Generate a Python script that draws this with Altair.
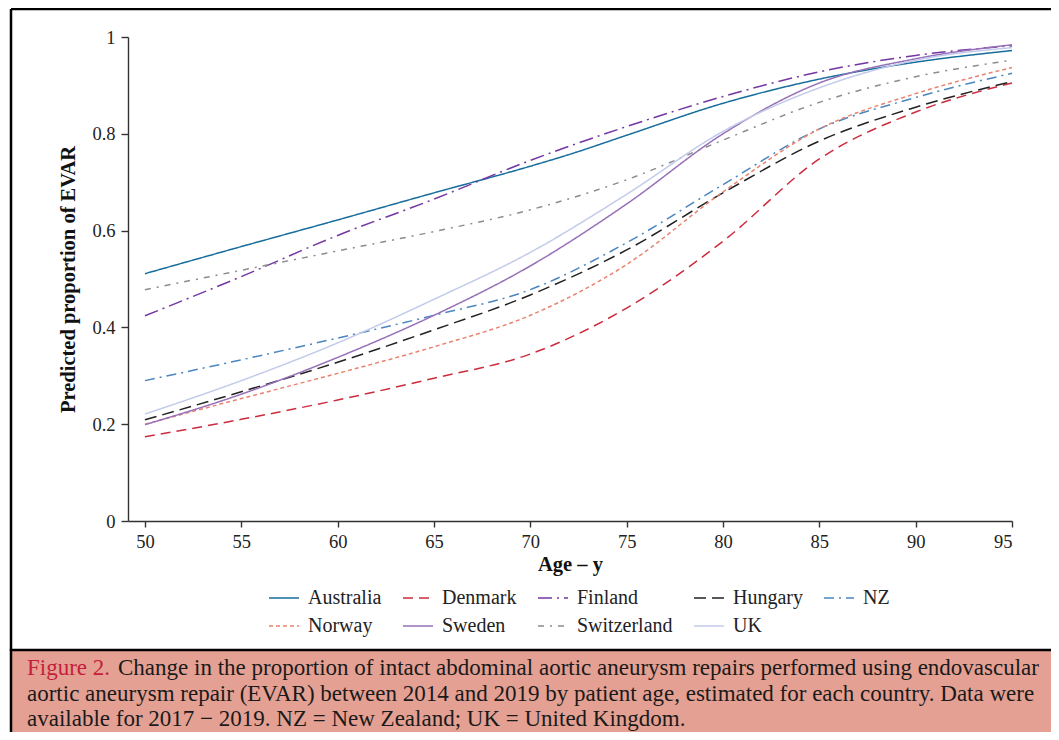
import altair as alt
import pandas as pd

ages = [50, 55, 60, 65, 70, 75, 80, 85, 90, 95]
australia_ages = [50, 55, 60, 65, 70, 72, 75, 80, 85, 90, 95]
australia = [0.511, 0.567, 0.622, 0.678, 0.733, 0.757, 0.797, 0.863, 0.913, 0.948, 0.972]
denmark = [0.174, 0.210, 0.250, 0.295, 0.345, 0.440, 0.578, 0.748, 0.845, 0.905]
finland = [0.424, 0.505, 0.590, 0.665, 0.745, 0.815, 0.877, 0.928, 0.962, 0.982]
hungary = [0.209, 0.267, 0.328, 0.395, 0.467, 0.560, 0.678, 0.785, 0.855, 0.908]
nz = [0.290, 0.333, 0.378, 0.425, 0.478, 0.575, 0.695, 0.810, 0.875, 0.925]
norway = [0.200, 0.253, 0.305, 0.360, 0.425, 0.530, 0.680, 0.810, 0.883, 0.937]
sweden = [0.199, 0.262, 0.338, 0.425, 0.527, 0.655, 0.800, 0.905, 0.955, 0.984]
switzerland = [0.478, 0.518, 0.558, 0.598, 0.643, 0.705, 0.787, 0.865, 0.918, 0.952]
uk = [0.221, 0.290, 0.368, 0.458, 0.555, 0.675, 0.805, 0.895, 0.952, 0.978]

countries = ["Australia", "Denmark", "Finland", "Hungary", "NZ",
             "Norway", "Sweden", "Switzerland", "UK"]
colors = ["#176d9c", "#cb2c3e", "#7536a3", "#222222", "#4a86c0",
          "#e9826f", "#9770b8", "#8c8c8c", "#c3cbea"]
dashes = [[1, 0], [10, 6], [14, 5, 2, 5], [12, 6], [10, 5, 2, 5],
          [4, 3], [1, 0], [6, 6, 2, 6], [1, 0]]

x_ticks = [50, 55, 60, 65, 70, 75, 80, 85, 90, 95]
y_ticks = [0, 0.2, 0.4, 0.6, 0.8, 1]

caption_label = "Figure 2."
caption_1 = "Change in the proportion of intact abdominal aortic aneurysm repairs performed using endovascular"
caption_2 = "aortic aneurysm repair (EVAR) between 2014 and 2019 by patient age, estimated for each country. Data were"
caption_3 = "available for 2017 \u2212 2019. NZ = New Zealand; UK = United Kingdom."

series = {
    "Australia": (australia_ages, australia),
    "Denmark": (ages, denmark),
    "Finland": (ages, finland),
    "Hungary": (ages, hungary),
    "NZ": (ages, nz),
    "Norway": (ages, norway),
    "Sweden": (ages, sweden),
    "Switzerland": (ages, switzerland),
    "UK": (ages, uk),
}
rows = []
for c in countries:
    xs, ys = series[c]
    for a, v in zip(xs, ys):
        rows.append({"country": c, "age": a, "value": v})
df = pd.DataFrame(rows)

FONT = "Liberation Serif"

legend = alt.Legend(
    title=None, orient="none", legendX=140, legendY=545, columns=5,
    direction="horizontal", labelFont=FONT, labelFontSize=20,
    labelColor="#222222", symbolSize=900, symbolStrokeWidth=1.6,
    columnPadding=17, rowPadding=2, labelOffset=8,
)

lines = alt.Chart(df).mark_line(strokeWidth=1.5, interpolate="monotone").encode(
    x=alt.X("age:Q",
            scale=alt.Scale(domain=[49.12, 95], nice=False, zero=False),
            axis=alt.Axis(values=x_ticks, title="Age \u2013 y", format="d")),
    y=alt.Y("value:Q",
            scale=alt.Scale(domain=[0, 1], nice=False),
            axis=alt.Axis(values=y_ticks, format=".1~f",
                          title="Predicted proportion of EVAR",
                          titleX=-60, titleY=242, titleAngle=270,
                          titleAlign="center", titleBaseline="middle")),
    color=alt.Color("country:N", scale=alt.Scale(domain=countries, range=colors),
                    legend=legend),
    strokeDash=alt.StrokeDash("country:N",
                              scale=alt.Scale(domain=countries, range=dashes),
                              legend=legend),
)

one = pd.DataFrame({"k": [0]})

frame_left = alt.Chart(one).mark_rule(color="#000000", strokeWidth=2.5).encode(
    x=alt.value(-117), y=alt.value(-28), y2=alt.value(614))
frame_top = alt.Chart(one).mark_rule(color="#000000", strokeWidth=2.5).encode(
    x=alt.value(-117), x2=alt.value(960), y=alt.value(-28))
caption_box = alt.Chart(one).mark_rect(
    fill="#e4a093", stroke="#000000", strokeWidth=2.5).encode(
    x=alt.value(-117), x2=alt.value(960), y=alt.value(613), y2=alt.value(760))

def caption_text(txt, x, y, color):
    return alt.Chart(pd.DataFrame({"t": [txt]})).mark_text(
        font=FONT, fontSize=23, align="left", baseline="alphabetic",
        color=color).encode(text="t:N", x=alt.value(x), y=alt.value(y))

cap0 = caption_text(caption_label, -101, 638, "#c41e3a")
cap1 = caption_text(caption_1, -10, 638, "#1a1a1a")
cap2 = caption_text(caption_2, -101, 664, "#1a1a1a")
cap3 = caption_text(caption_3, -101, 689, "#1a1a1a")

chart = alt.layer(
    caption_box, frame_left, frame_top, lines, cap0, cap1, cap2, cap3
).properties(
    width=884, height=484,
    autosize=alt.AutoSizeParams(type="none"),
    padding={"left": 120, "top": 29, "right": 39, "bottom": 211},
).configure_view(stroke=None).configure_axis(
    grid=False, domainColor="#333333", domainWidth=1.4,
    tickColor="#333333", tickWidth=1.4,
    labelFont=FONT, labelFontSize=18.5, labelColor="#222222",
    titleFont=FONT, titleFontSize=20.5, titleFontWeight="bold", titleColor="#111111",
).configure_axisX(tickSize=6, labelPadding=5, titlePadding=4).configure_axisY(
    tickSize=7, labelPadding=6)

chart.save("out.html", embed_options={"renderer": "svg", "actions": False})
